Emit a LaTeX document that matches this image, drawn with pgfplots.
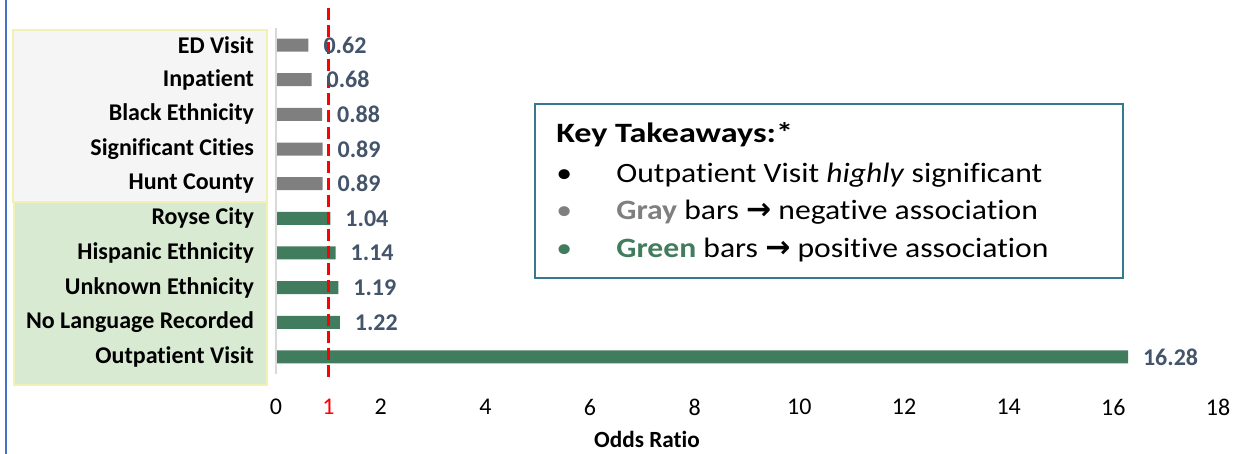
\documentclass[border=0pt]{standalone}
\usepackage{pgfplots}
\pgfplotsset{compat=1.18}
\usepackage{fontspec}
\setmainfont{Carlito}[Ligatures=NoCommon]
\newfontfamily\boxfont[FakeStretch=1.13,Ligatures=NoCommon]{Carlito}
\newfontfamily\boxfontwide[FakeStretch=1.22,Ligatures=NoCommon]{Carlito}
\newfontfamily\dejavu{DejaVu Sans}
\definecolor{barGray}{RGB}{127,127,127}
\definecolor{barGreen}{RGB}{66,124,94}
\definecolor{valBlue}{RGB}{68,84,106}
\definecolor{boxBlue}{RGB}{55,120,145}
\definecolor{grayBox}{RGB}{245,245,245}
\definecolor{greenBox}{RGB}{217,234,211}
\definecolor{yellowEdge}{RGB}{240,242,180}
\definecolor{slideBlue}{RGB}{68,114,196}
\newcommand{\arr}{{\dejavu\bfseries\fontsize{15}{16}\selectfont →}}
\begin{document}
\begin{tikzpicture}
\path[use as bounding box] (0,0) rectangle (617pt,227pt);
\begin{scope}[x=0.5pt,y=-0.5pt,yshift=227pt]
\draw[slideBlue, line width=1pt] (6,0) -- (6,454);
\fill[grayBox] (13,30) rectangle (267,202);
\draw[yellowEdge, line width=1pt] (13,30) rectangle (267,202);
\fill[greenBox] (14,202) rectangle (267,385);
\draw[yellowEdge, line width=1pt] (14,202) rectangle (267,385);
\end{scope}
\begin{axis}[
  at={(138pt,39.85pt)}, anchor=south west,
  scale only axis, width=471pt, height=173.3pt,
  xmin=0, xmax=18, ymin=-0.5, ymax=9.5,
  y dir=reverse,
  xbar, bar width=6.5pt, bar shift=0pt,
  axis line style={draw=none},
  major tick length=0pt,
  xtick={0,2,...,18},
  extra x ticks={1},
  extra x tick style={xticklabel style={text=red}},
  xticklabel style={font=\fontsize{12}{14}\selectfont, yshift=-9pt},
  /pgf/number format/assume math mode=true,
  ytick={0,...,9},
  yticklabels={ED Visit,Inpatient,Black Ethnicity,Significant Cities,Hunt County,Royse City,Hispanic Ethnicity,Unknown Ethnicity,No Language Recorded,Outpatient Visit},
  yticklabel style={font=\fontsize{12}{14}\selectfont\bfseries, xshift=-7.5pt},
  xlabel={Odds Ratio},
  xlabel style={font=\fontsize{11.6}{13}\selectfont\bfseries, yshift=-1pt, xshift=-50pt},
  nodes near coords,
  every node near coord/.append style={font=\fontsize{12}{14}\selectfont\bfseries, text=valBlue, anchor=west, xshift=4pt,
    /pgf/number format/.cd, fixed, fixed zerofill, precision=2, assume math mode=true},
  clip=false,
]
\addplot[fill=barGray, draw=none] coordinates {(0.62,0) (0.68,1) (0.88,2) (0.89,3) (0.89,4)};
\addplot[fill=barGreen, draw=none] coordinates {(1.04,5) (1.14,6) (1.19,7) (1.22,8) (16.28,9)};
\draw[gray!30, line width=1pt] (axis cs:0,-0.5) -- (axis cs:0,9.5);
\draw[red, line width=1.5pt, dash pattern=on 6pt off 2.5pt] (axis cs:1,-1.07) -- (axis cs:1,9.6);
\end{axis}
\begin{scope}[x=0.5pt,y=-0.5pt,yshift=227pt]
\draw[boxBlue, line width=1pt] (535,104) rectangle (1123,278);
\begin{scope}[every node/.style={inner sep=0pt, anchor=base west, font=\boxfont\fontsize{14}{16}\selectfont}]
\node at (556,143) {\boxfontwide\fontsize{14}{16}\selectfont\bfseries Key Takeaways:*};
\node at (556,183) {\textbullet};
\node at (616,183) {Outpatient Visit \textit{highly} significant};
\node[text=barGray] at (556,220) {\textbullet};
\node at (616,220) {{\bfseries\color{barGray}Gray} bars \arr{} negative association};
\node[text=barGreen] at (556,258) {\textbullet};
\node at (616,258) {{\bfseries\color{barGreen}Green} bars \arr{} positive association};
\end{scope}
\end{scope}
\end{tikzpicture}
\end{document}
